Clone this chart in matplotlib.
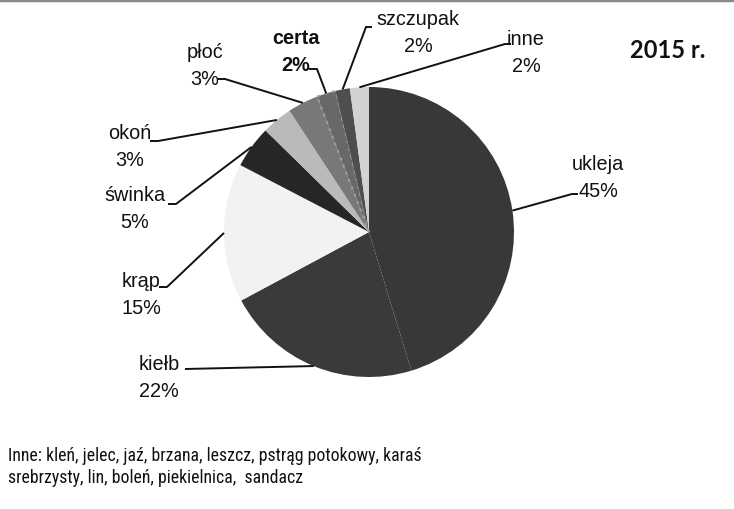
import numpy as np
import matplotlib
matplotlib.use('Agg')
import matplotlib.pyplot as plt

plt.rcParams['font.family'] = ['Liberation Sans', 'DejaVu Sans']

# gatunki ryb, udzial w 2015 r.
species = ['ukleja', 'kiełb', 'krąp', 'świnka', 'okoń', 'płoć', 'certa', 'szczupak', 'inne']
shares = [45.1, 21.8, 15.4, 4.7, 3.4, 3.4, 2.1, 1.6, 2.1]
colors = ['#383838', '#3a3a3a', '#f2f2f2', '#262626', '#bababa',
          '#787878', '#686868', '#4e4e4e', '#d2d2d2']
title = '2015 r.'
note = ('Inne: kleń, jelec, jaź, brzana, leszcz, pstrąg potokowy, karaś\n'
        'srebrzysty, lin, boleń, piekielnica,  sandacz')

# label layout in pixels: text centre, elbow point of leader
label_pos = {
    'ukleja': ((598, 178), (572, 195)),
    'kiełb': ((159, 378), (185, 370)),
    'krąp': ((141, 295), (167, 288)),
    'świnka': ((135, 209), (176, 205)),
    'okoń': ((130, 147), (158, 142)),
    'płoć': ((205, 66), (225, 80)),
    'certa': ((296, 52), (317, 70)),
    'szczupak': ((418, 33), (366, 28)),
    'inne': ((526, 53), (505, 45)),
}

fig = plt.figure(figsize=(7.34, 5.10), dpi=100)
ax = fig.add_axes([0, 0, 1, 1])

cx, cy, r = 369, 233, 145
wedges, _ = ax.pie(shares, colors=colors, startangle=-90, counterclock=True,
                   center=(cx, cy), radius=r,
                   wedgeprops=dict(linewidth=0))
# dotted light edge on the certa slice
wedges[6].set_edgecolor('#a0a0a0')
wedges[6].set_linestyle((0, (1.5, 2.5)))
wedges[6].set_linewidth(1.4)

ax.set_xlim(0, 734)
ax.set_ylim(510, 0)
ax.set_aspect('equal')
ax.axis('off')

for w, name, v in zip(wedges, species, shares):
    mid = np.deg2rad((w.theta1 + w.theta2) / 2)
    px = cx + r * np.cos(mid)
    py = cy + r * np.sin(mid)
    (tx, ty), (ex, ey) = label_pos[name]
    weight = 'bold' if name == 'certa' else 'normal'
    ax.text(tx, ty, f'{name}\n{round(v)}%', ha='center', va='center',
            fontsize=14.3, fontweight=weight, linespacing=1.5, color='#111111')
    if name == 'kiełb':
        xs, ys = [ex, px], [ey, py]
    elif name in ('szczupak', 'ukleja', 'inne'):
        xs, ys = [ex + 6, ex, px], [ey, ey, py]
    else:
        xs, ys = [ex - 8, ex, px], [ey, ey, py]
    ax.plot(xs, ys, color='#111111', lw=1.4, solid_capstyle='butt')

ax.text(705, 51, title, ha='right', va='center', fontsize=17,
        fontweight='bold', family=['Lato', 'DejaVu Sans'], color='#111111')

ax.text(8, 447, note, ha='left', va='top', fontsize=12.8, linespacing=1.3,
        family=['Roboto Condensed', 'Liberation Sans'], color='#111111')

# thin grey frame line at top of the picture
ax.axhline(1, color='#8a8a8a', lw=2.5)

fig.savefig('out.png', dpi=100, facecolor='white')
